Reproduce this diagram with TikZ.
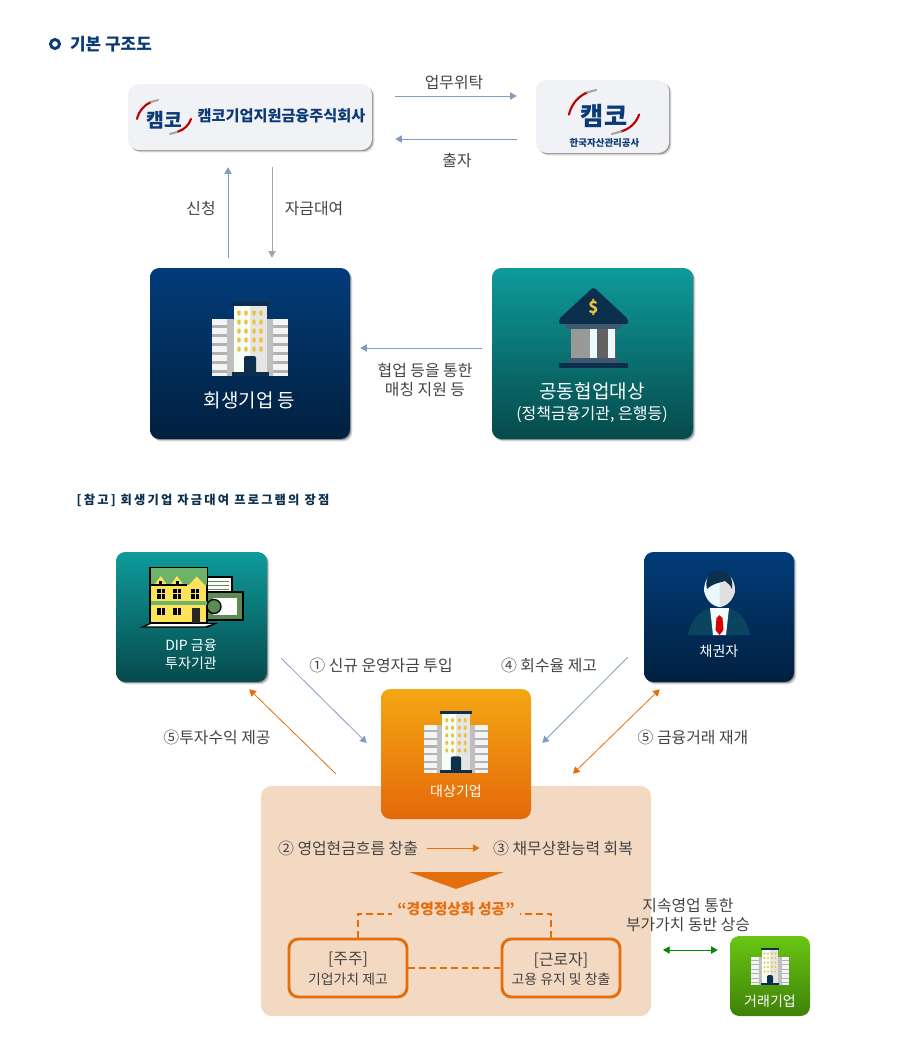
\documentclass[tikz,border=0pt]{standalone}
\usepackage{fontspec}
\setmainfont{Noto Sans CJK KR}
\usetikzlibrary{arrows.meta,shadows}

\definecolor{navy}{HTML}{0B3A78}
\definecolor{navytop}{HTML}{023C7A}
\definecolor{navylow}{HTML}{01203F}
\definecolor{tealtop}{HTML}{0F9A9A}
\definecolor{teallow}{HTML}{064A4C}
\definecolor{orangetop}{HTML}{F4A713}
\definecolor{orangelow}{HTML}{E5690A}
\definecolor{greentop}{HTML}{69C614}
\definecolor{greenlow}{HTML}{3F8108}
\definecolor{logofill}{HTML}{F1F2F5}
\definecolor{grytxt}{HTML}{444444}
\definecolor{arrowblue}{HTML}{7F9DC2}
\definecolor{arroworange}{HTML}{E56E0C}
\definecolor{peach}{HTML}{F3D8C2}
\definecolor{icondark}{HTML}{0C2F4C}
\definecolor{windowgold}{HTML}{EEC040}
\definecolor{houseyellow}{HTML}{FDE35A}
\definecolor{housegreen}{HTML}{6DB36A}
\definecolor{moneygreen}{HTML}{5D8A55}

\tikzset{
  boxsize/.style 2 args={minimum width=#1*0.75pt,minimum height=#2*0.75pt,inner sep=0pt},
  softshadow/.style={drop shadow={shadow xshift=1.8pt,shadow yshift=-1.8pt,opacity=.15,fill=black},drop shadow={shadow xshift=.9pt,shadow yshift=-.9pt,opacity=.3,fill=black}},
  logobox/.style={fill=logofill,rounded corners=8pt,softshadow},
  navybox/.style={top color=navytop,bottom color=navylow,rounded corners=7pt,softshadow},
  tealbox/.style={top color=tealtop,bottom color=teallow,rounded corners=7pt,softshadow},
  orangebox/.style={top color=orangetop,bottom color=orangelow,rounded corners=7pt},
  greenbox/.style={top color=greentop,bottom color=greenlow,rounded corners=7pt},
  txt/.style={text=grytxt,inner sep=0pt,align=center,yshift=-.75pt,font=\fontsize{11.9}{14.5}\selectfont},
  smalltxt/.style={txt,font=\fontsize{10.4}{12}\selectfont},
  whitetxt/.style={text=white,inner sep=0pt,align=center,font=\fontsize{10.5}{13.5}\selectfont},
  thinarrow/.style={draw=arrowblue,line width=.6pt,-{Triangle[length=5pt,width=5.5pt]}},
  orangearrow/.style={draw=arroworange,line width=.6pt,-{Triangle[length=5pt,width=5.5pt]}},
  twoway/.style={draw=#1,line width=.6pt,{Triangle[length=5pt,width=5.5pt]}-{Triangle[length=5pt,width=5.5pt]}},
  dash line/.style={draw=arroworange,line width=1.4pt,dash pattern=on 5pt off 3pt},
  outcomebox/.style={draw=arroworange,line width=2.2pt,rounded corners=7pt,boxsize={118}{58}},
  building/.pic={
    \fill[cyan!5!black!5] (-38,17) rectangle (38,74);
    \foreach \y in {23,32,41,50,59,68}
      \fill[black!30] (-38,\y) rectangle (38,\y+2.5);
    \fill[black!25] (-23,17) rectangle (23,74);
    \fill[green!3!white] (-16.5,4) rectangle (0,70);
    \fill[black!10] (0,4) rectangle (16.5,70);
    \foreach \x in {-11,-4,4,11}
      \foreach \y in {11,20,29,38,47}
        \fill[windowgold,rounded corners=.8pt] (\x-1.7,\y-2.5) rectangle (\x+1.7,\y+2.5);
    \fill[icondark,rounded corners=1.5pt] (-6,54) rectangle (6,72);
    \fill[icondark] (-18.5,0) rectangle (18.5,4);
    \fill[icondark] (-18.5,70) rectangle (18.5,74);
  },
  logomark/.pic={
    \draw[red!75!black,line width=1.6pt,line cap=round] (-27,2) .. controls (-25,-6) and (-20,-12) .. (-13,-15);
    \draw[black!35,line width=1.6pt,line cap=round] (-13,-15) -- (-6,-17);
    \draw[red!75!black,line width=1.6pt,line cap=round] (27,2) .. controls (25,8) and (20,13) .. (13,15);
    \draw[black!35,line width=1.6pt,line cap=round] (13,15) -- (6,17);
    \node[transform shape,text=navy,inner sep=0pt,font=\fontsize{14.5}{16}\selectfont\bfseries] (-mark) at (0,3) {캠코};
  }
}

\begin{document}
\begin{tikzpicture}[x=0.75pt,y=-0.75pt]
  \useasboundingbox (0,0) rectangle (915,1040);

  % upper part
  \draw[navy,line width=2.2pt] (55,44) circle (4.5);
  \node[text=navy,inner sep=0pt,font=\fontsize{12.7}{14}\selectfont\bfseries] (title) at (111,44) {기본 구조도};

  \node[logobox,boxsize={244}{66}] (fundbox) at (250,117) {};
  \node[logobox,boxsize={133}{73}] (kamcobox) at (602.5,116.5) {};
  \pic (fundlogo) at (164,117) {logomark};
  \node[text=navy,inner sep=0pt,font=\fontsize{11.4}{13}\selectfont\bfseries] (fundname) at (281.5,116) {캠코기업지원금융주식회사};
  \pic[scale=1.3] (kamcologo) at (604,112) {logomark};
  \node[text=navy,inner sep=0pt,font=\fontsize{7.1}{9}\selectfont\bfseries] (kamconame) at (604.5,143) {한국자산관리공사};

  \node[navybox,boxsize={200}{171}] (rehabbox) at (250,353.5) {};
  \node[tealbox,boxsize={201}{171}] (jointbox) at (592.5,353.5) {};
  \pic at (250,302) {building};
  \node[whitetxt,font=\fontsize{14.2}{18}\selectfont] (rehabname) at (249.5,400.5) {회생기업 등};

  % bank
  \fill[icondark,rounded corners=1.5pt] (593.5,287) -- (628,319) -- (628,324) -- (559,324) -- (559,319) -- cycle;
  \fill[icondark!80!white] (566,324) rectangle (621,329);
  \fill[black!40] (571,329) rectangle (594,358);
  \fill[black!62] (594,329) rectangle (616,358);
  \foreach \x in {593.5,611.5}
    \fill[cyan!8!white] (\x-3.5,329) rectangle (\x+3.5,358);
  \fill[icondark!80!white] (568,358) rectangle (619,363);
  \fill[icondark] (559,363) rectangle (628,368);
  \node[text=windowgold,inner sep=0pt,font=\fontsize{12.5}{14}\selectfont\bfseries] (banksign) at (593.5,307) {\$};

  \node[whitetxt,font=\fontsize{14.3}{17}\selectfont] (jointname) at (592,391.5) {공동협업대상};
  \node[whitetxt,font=\fontsize{12}{14}\selectfont] (jointnote) at (592,414.5) {(정책금융기관, 은행등)};

  \node[txt] (consign) at (454,82) {업무위탁};
  \node[txt] (invest) at (457,160) {출자};
  \node[txt] (apply) at (201,208) {신청};
  \node[txt] (loan) at (314,208) {자금대여};
  \node[txt] (matching) at (425,379) {협업 등을 통한\\매칭 지원 등};

  \draw[thinarrow] ([shift={(23,-21)}]fundbox.east) -- ([shift={(-19,-20.5)}]kamcobox.west);
  \draw[thinarrow] ([shift={(-19,22.5)}]kamcobox.west) -- ([shift={(23,22)}]fundbox.east);
  \draw[thinarrow] ([shift={(-22,-10)}]rehabbox.north) -- ([shift={(-22,17)}]fundbox.south);
  \draw[thinarrow,draw=black!35] ([shift={(22,17)}]fundbox.south) -- ([shift={(22,-10)}]rehabbox.north);
  \draw[thinarrow] ([shift={(-10,-5.5)}]jointbox.west) -- ([shift={(10,-5.5)}]rehabbox.east);

  % lower part
  \node[inner sep=0pt,text=icondark,font=\fontsize{9.2}{11}\selectfont\bfseries\addfontfeature{LetterSpace=18}] (refnote) at (203,500) {[참고] 회생기업 자금대여 프로그램의 장점};

  \node[tealbox,boxsize={151}{130}] (dipbox) at (191.5,617) {};
  \node[navybox,boxsize={150}{130}] (creditorbox) at (719,617) {};
  \node[fill=peach,rounded corners=8pt,boxsize={390}{230}] (peachbox) at (456,901) {};
  \node[orangebox,boxsize={150}{130}] (targetbox) at (456,754) {};
  \node[greenbox,boxsize={80}{80}] (tradebox) at (770,976) {};

  % house with papers
  \draw[black,line width=1pt,fill=white] (207,577) rectangle (232,593);
  \foreach \y in {581,585,589}
    \draw[moneygreen,line width=.5pt] (208,\y) -- (229,\y);
  \draw[black,line width=1pt,fill=moneygreen] (207,592) rectangle (243,620);
  \fill[white] (213,598) rectangle (237,615);
  \draw[black,fill=moneygreen,line width=1pt] (214,606.5) circle (7);
  \fill[black] (140,627.5) -- (150,623) -- (218,623) -- (208,627.5) -- cycle;
  \fill[white] (146,626.3) -- (151,624) -- (212,624) -- (205,626.3) -- cycle;
  \draw[black,line width=1.2pt,fill=houseyellow] (150,567.5) rectangle (207,623);
  \fill[housegreen] (151,568) rectangle (206.5,585);
  \fill[housegreen] (151,601) rectangle (206.5,605);
  \foreach \x in {160.7,177}
    {
      \fill[houseyellow] (\x-6.5,585) -- (\x,576) -- (\x+6.5,585) -- cycle;
      \fill[black] (\x-1.5,581) rectangle (\x+1.5,585);
    }
  \fill[houseyellow] (187,587) -- (196.7,576.5) -- (206.5,587) -- cycle;
  \draw[black,line width=1pt] (150,585) -- (187,585);
  \foreach \x in {161,177,195}
    {
      \fill[black] (\x-4,589) rectangle (\x+4,598.5);
      \draw[houseyellow,line width=.5pt] (\x,589) -- (\x,598.5) (\x-4,593.7) -- (\x+4,593.7);
    }
  \foreach \x in {161,177}
    {
      \fill[black] (\x-4,608) rectangle (\x+4,615);
      \draw[houseyellow,line width=.5pt] (\x,608) -- (\x,615);
    }
  \fill[black!85] (192,608) rectangle (200,623);

  \node[whitetxt] (dipname) at (191,654) {DIP 금융\\투자기관};

  % person
  \fill[icondark!90!cyan] (688,635) .. controls (692,618) and (700,611) .. (710,608) -- (729,608) .. controls (739,611) and (746,618) .. (750,635) -- cycle;
  \fill[cyan!5!white] (710,608) -- (729,608) -- (726,635) -- (713,635) -- cycle;
  \fill[red!85!black] (719.5,615) -- (722.5,618) -- (723.5,630) -- (719.5,635) -- (715.5,630) -- (716.5,618) -- cycle;
  \fill[cyan!8!white] (719.5,572) .. controls (731,572) and (735,582) .. (735,591) .. controls (733,600) and (727,606) .. (719.5,607) .. controls (712,606) and (706,600) .. (704,591) .. controls (704,582) and (708,572) .. (719.5,572) -- cycle;
  \fill[black!12] (719.5,580) -- (719.5,607) .. controls (727,606) and (733,600) .. (735,591) .. controls (735,586) and (733,583) .. (732,580) -- cycle;
  \fill[icondark] (719.5,571) .. controls (731,571) and (733,580) .. (732,589) .. controls (730,584) and (727,583) .. (725,581) .. controls (718,583) and (712,584) .. (707,589) .. controls (705,580) and (708,571) .. (719.5,571) -- cycle;
  \node[whitetxt] (creditorname) at (719,651) {채권자};

  \pic[scale=.84] at (456,711) {building};
  \node[whitetxt] (targetname) at (456,791) {대상기업};
  \pic[scale=.5] at (770,948) {building};
  \node[whitetxt] (tradename) at (770,1001) {거래기업};

  \node[txt] (newfund) at (381,664) {① 신규 운영자금 투입};
  \node[txt] (recovery) at (549,664) {④ 회수율 제고};
  \node[txt] (invreturn) at (217,736) {⑤투자수익 제공};
  \node[txt] (resume) at (693,736) {⑤ 금융거래 재개};

  \draw[thinarrow] ([shift={(14,-24)}]dipbox.south east) -- ([shift={(-14,-11)}]targetbox.west);
  \draw[orangearrow] ([shift={(75,-12)}]peachbox.north west) -- ([shift={(-18,7)}]dipbox.south east);
  \draw[thinarrow] ([shift={(-16,-25)}]creditorbox.south west) -- ([shift={(11,-11)}]targetbox.east);
  \draw[twoway=arroworange] ([shift={(117,-12)}]peachbox.north) -- ([shift={(16,7)}]creditorbox.south west);

  \node[txt] (cashflow) at (348,847) {② 영업현금흐름 창출};
  \node[txt] (repay) at (563,847) {③ 채무상환능력 회복};
  \draw[orangearrow] ([xshift=7pt]cashflow.east) -- ([xshift=-10pt]repay.west);
  \fill[arroworange] (409,872) -- (504,872) -- (456,889) -- cycle;

  \node[text=arroworange,inner sep=0pt,font=\fontsize{11.1}{13}\selectfont\bfseries] (success) at (456,909) {“경영정상화 성공”};
  \node[outcomebox] (holder) at (348,968) {};
  \node[outcomebox] (worker) at (561,968) {};
  \node[txt] (holdername) at (348,959) {[주주]};
  \node[smalltxt] (holdernote) at (348,978) {기업가치 제고};
  \node[txt] (workername) at (561,959) {[근로자]};
  \node[smalltxt] (workernote) at (561,978) {고용 유지 및 창출};
  \draw[dash line] ([xshift=7.5pt]holder.north) |- ([xshift=-4pt,yshift=-3.75pt]success.west);
  \draw[dash line] ([xshift=-7.5pt]worker.north) |- ([xshift=4pt,yshift=-3.75pt]success.east);
  \draw[dash line] (holder) -- (worker);

  \node[txt] (synergy) at (688,914) {지속영업 통한\\부가가치 동반 상승};
  \coordinate (tradeleft) at (663,950);
  \draw[twoway=green!55!black] (tradeleft) -- ([shift={(-12,-26)}]tradebox.west);
\end{tikzpicture}
\end{document}
